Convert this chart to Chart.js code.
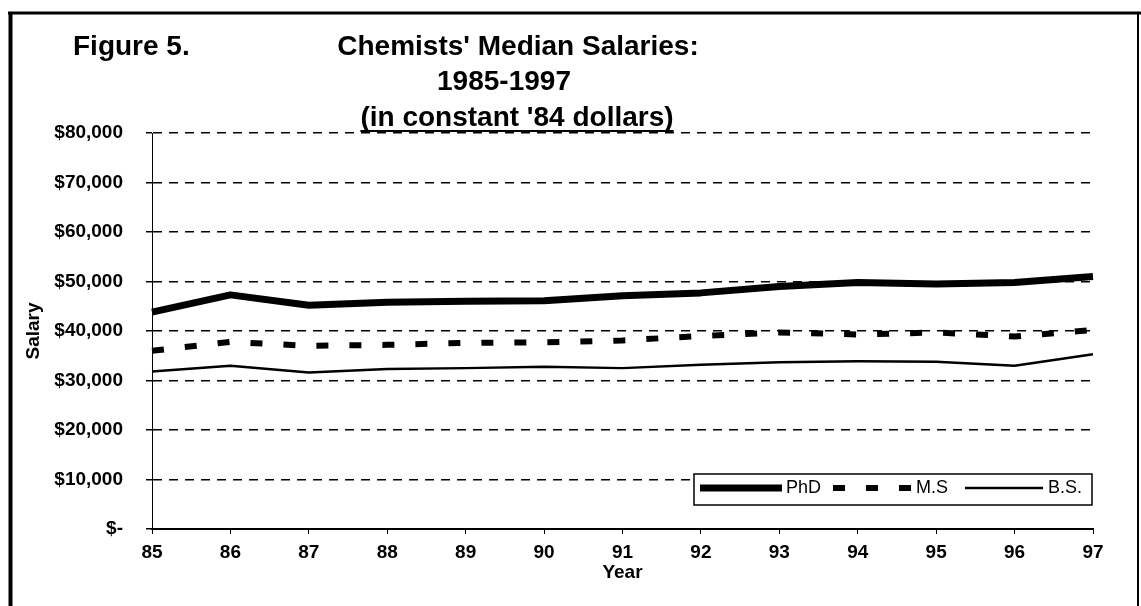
<!DOCTYPE html>
<html><head><meta charset="utf-8">
<script src="https://cdn.jsdelivr.net/npm/chart.js@4/dist/chart.umd.min.js"></script>
<style>
html,body{margin:0;padding:0;background:#fff;}
#wrap{position:relative;width:1141px;height:606px;}
</style>
</head><body>
<div id="wrap"><canvas id="c"></canvas></div>
<script>
// ---- data ----
const years = ['85','86','87','88','89','90','91','92','93','94','95','96','97'];
const phd = [43800, 47300, 45200, 45800, 46000, 46100, 47100, 47700, 49000, 49800, 49500, 49800, 51000];
const ms  = [36000, 37800, 37000, 37200, 37600, 37700, 38100, 39000, 39700, 39300, 39700, 38900, 40200];
const bs  = [31800, 33000, 31600, 32300, 32500, 32800, 32500, 33200, 33700, 33900, 33800, 33000, 35300];
const seriesNames = ['PhD', 'M.S', 'B.S.'];
const yTickLabels = ['$-', '$10,000', '$20,000', '$30,000', '$40,000', '$50,000', '$60,000', '$70,000', '$80,000'];
const figureLabel = 'Figure 5.';
const titleLines = ["Chemists' Median Salaries:", '1985-1997', "(in constant '84 dollars)"];
const xTitle = 'Year';
const yTitle = 'Salary';

const FONT = "'Liberation Sans', Arial, sans-serif";

const decorPlugin = {
  id: 'decor',
  beforeDraw(chart) {
    const ctx = chart.ctx;
    ctx.save();
    ctx.fillStyle = '#fff';
    ctx.fillRect(0, 0, chart.width, chart.height);
    ctx.restore();
  },
  afterDraw(chart) {
    const ctx = chart.ctx;
    ctx.save();
    // frame
    ctx.strokeStyle = '#000';
    ctx.lineWidth = 3;
    ctx.beginPath(); ctx.moveTo(8, 13); ctx.lineTo(1141, 13); ctx.stroke();
    ctx.lineWidth = 4;
    ctx.beginPath(); ctx.moveTo(10.5, 12); ctx.lineTo(10.5, 606); ctx.stroke();
    ctx.lineWidth = 2;
    ctx.beginPath(); ctx.moveTo(1138, 12); ctx.lineTo(1138, 606); ctx.stroke();
    // titles
    ctx.fillStyle = '#000';
    ctx.font = 'bold 28px ' + FONT;
    ctx.textBaseline = 'middle';
    ctx.textAlign = 'left';
    ctx.fillText(figureLabel, 73, 47);
    ctx.textAlign = 'center';
    const cx = [518, 504, 517];
    const cy = [47, 82, 118];
    titleLines.forEach((t, i) => ctx.fillText(t, cx[i], cy[i]));
    const w = ctx.measureText(titleLines[2]).width;
    ctx.lineWidth = 2;
    ctx.beginPath(); ctx.moveTo(cx[2] - w / 2, 131); ctx.lineTo(cx[2] + w / 2, 131); ctx.stroke();
    ctx.restore();
  },
  afterDatasetsDraw(chart) {
    const ctx = chart.ctx;
    ctx.save();
    // legend box
    ctx.fillStyle = '#fff';
    ctx.fillRect(694, 474, 398, 31);
    ctx.strokeStyle = '#000';
    ctx.lineWidth = 1.5;
    ctx.strokeRect(694, 474, 398, 31);
    const ys = 488;
    const items = [[700, 782, 786], [833, 912, 916], [965, 1043, 1048]];
    ctx.font = '18px ' + FONT;
    ctx.textBaseline = 'middle';
    ctx.textAlign = 'left';
    chart.data.datasets.forEach((ds, i) => {
      const [x1, x2, tx] = items[i];
      ctx.strokeStyle = ds.borderColor;
      ctx.lineWidth = ds.borderWidth;
      ctx.setLineDash(ds.borderDash || []);
      ctx.lineCap = 'butt';
      ctx.beginPath(); ctx.moveTo(x1, ys); ctx.lineTo(x2, ys); ctx.stroke();
      ctx.setLineDash([]);
      ctx.fillStyle = '#000';
      ctx.fillText(ds.label, tx, ys);
    });
    ctx.restore();
  }
};

new Chart(document.getElementById('c'), {
  type: 'line',
  data: {
    labels: years,
    datasets: [
      { label: seriesNames[0], data: phd, borderColor: '#000', borderWidth: 7, pointRadius: 0, tension: 0, borderJoinStyle: 'round' },
      { label: seriesNames[1], data: ms, borderColor: '#000', borderWidth: 6, borderDash: [12, 21], pointRadius: 0, tension: 0 },
      { label: seriesNames[2], data: bs, borderColor: '#000', borderWidth: 2.5, pointRadius: 0, tension: 0, borderJoinStyle: 'round' }
    ]
  },
  options: {
    responsive: true,
    maintainAspectRatio: false,
    devicePixelRatio: 1,
    animation: false,
    layout: { padding: { top: 133, right: 48, left: 0, bottom: 0 } },
    plugins: { legend: { display: false }, title: { display: false }, tooltip: { enabled: false } },
    scales: {
      x: {
        type: 'category',
        offset: false,
        afterFit(s) { s.height = 77; },
        grid: { display: true, drawOnChartArea: false, drawTicks: true, tickLength: 5, color: '#000', lineWidth: 1 },
        border: { display: true, color: '#000', width: 2 },
        ticks: { color: '#000', padding: 7, maxRotation: 0, autoSkip: false, font: { family: FONT, size: 19, weight: 'bold' } },
        title: { display: true, text: xTitle, color: '#000', padding: { top: 0, bottom: 22 }, font: { family: FONT, size: 19, weight: 'bold' } }
      },
      y: {
        min: 0, max: 80000,
        afterFit(s) { s.width = 152; },
        grid: { display: true, drawOnChartArea: true, drawTicks: true, tickLength: 6, color: '#000', lineWidth: 1.5 },
        border: { display: true, color: '#000', width: 1, dash: [9, 7] },
        ticks: {
          stepSize: 10000, color: '#000', padding: 23,
          font: { family: FONT, size: 19, weight: 'bold' },
          callback: (v, i) => yTickLabels[i]
        },
        title: { display: true, text: yTitle, color: '#000', padding: { top: 22, bottom: 0 }, font: { family: FONT, size: 19, weight: 'bold' } }
      }
    }
  },
  plugins: [decorPlugin]
});
</script>
</body></html>
